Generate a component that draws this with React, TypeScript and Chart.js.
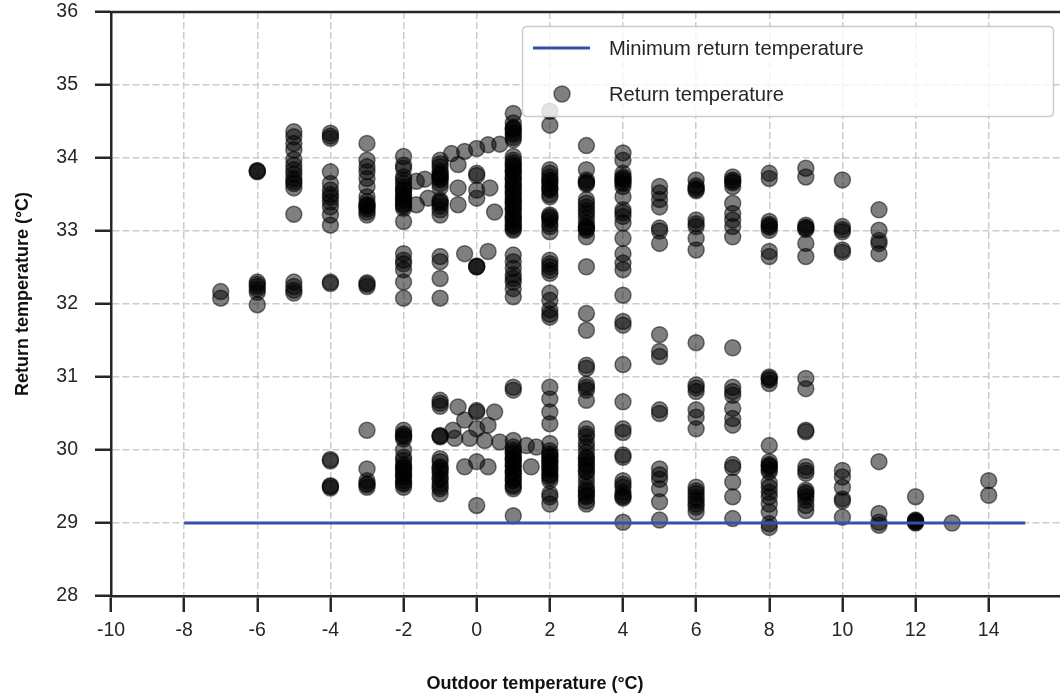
import React, { useEffect, useRef } from "react";
import { Chart, registerables } from "chart.js";

Chart.register(...registerables);

// ---------- data ----------
const xTickValues = [-10, -8, -6, -4, -2, 0, 2, 4, 6, 8, 10, 12, 14];
const yTickValues = [28, 29, 30, 31, 32, 33, 34, 35, 36];

const xAxisTitle = "Outdoor temperature (°C)";
const yAxisTitle = "Return temperature (°C)";
const lineLabel = "Minimum return temperature";
const pointLabel = "Return temperature";

// minimum return temperature line
const minLineOutdoor = [-8, 15];
const minLineReturn = [29, 29];

// return temperatures measured at whole-degree outdoor temperatures
const columnOutdoor = [-7, -6, -5, -4, -3, -2, -1, 0, 1, 2, 3, 4, 5, 6, 7, 8, 9, 10, 11, 12, 13, 14];
const columnReturn: number[][] = [
  [32.17, 32.08],
  [33.83, 33.81, 33.82, 32.3, 32.27, 32.24, 32.2, 32.16, 31.99],
  [34.36, 34.29, 34.2, 34.11, 33.98, 33.9, 33.84, 33.78, 33.72, 33.68, 33.65, 33.59, 33.23, 32.3, 32.24, 32.19, 32.15],
  [34.34, 34.27, 34.3, 33.81, 33.65, 33.56, 33.5, 33.46, 33.4, 33.33, 33.22, 33.08, 32.3, 32.28, 29.87, 29.85, 29.51, 29.48, 29.5],
  [34.2, 33.97, 33.88, 33.81, 33.72, 33.61, 33.47, 33.4, 33.36, 33.33, 33.3, 33.26, 33.22, 33.35, 32.29, 32.27, 32.24, 30.27, 29.74, 29.58, 29.54, 29.49, 29.52],
  [34.02, 33.9, 33.86, 33.74, 33.7, 33.65, 33.6, 33.56, 33.5, 33.47, 33.42, 33.38, 33.34, 33.31, 33.13,
   33.55, 33.45, 33.36,
   32.69, 32.6, 32.55, 32.47, 32.3, 32.08,
   30.27, 30.22, 30.18, 30.15, 30.0, 29.9, 29.86, 29.8, 29.77, 29.72, 29.68, 29.63, 29.58, 29.53, 29.49,
   30.2, 29.75, 29.65, 29.55],
  [33.97, 33.92, 33.88, 33.82, 33.77, 33.74, 33.7, 33.65, 33.6, 33.42, 33.38, 33.34, 33.29, 33.22,
   33.78, 33.72, 33.4,
   32.65, 32.58, 32.35, 32.08,
   30.68, 30.64, 30.6, 30.2, 30.18, 29.88, 29.84, 29.77, 29.72, 29.68, 29.62, 29.54, 29.47, 29.4,
   30.19, 29.75, 29.6, 29.5],
  [33.79, 33.76, 33.56, 33.45, 32.51, 32.52, 30.54, 30.52, 30.29, 29.84, 29.24],
  [34.61, 34.48, 34.42, 34.39, 34.35, 34.32, 34.28, 34.25, 34.02, 33.97, 33.93, 33.88, 33.84, 33.8, 33.75, 33.7, 33.65, 33.6, 33.56, 33.5, 33.46, 33.43, 33.38, 33.34, 33.29, 33.24, 33.2, 33.15, 33.11, 33.06, 33.01,
   34.4, 33.9, 33.82, 33.72, 33.62, 33.52, 33.4, 33.3, 33.18, 33.08, 33.03,
   32.67, 32.58, 32.49, 32.4, 32.35, 32.3, 32.21, 32.1,
   30.86, 30.82, 30.13, 30.04, 30.0, 29.95, 29.9, 29.86, 29.82, 29.77, 29.72, 29.68, 29.63, 29.58, 29.52, 29.47, 29.1,
   29.97, 29.88, 29.79, 29.7, 29.6, 29.5],
  [34.64, 34.45, 33.84, 33.79, 33.74, 33.7, 33.65, 33.6, 33.56, 33.5, 33.47, 33.22, 33.18, 33.1, 33.06, 32.99,
   33.68, 33.58, 33.2, 33.15,
   32.6, 32.55, 32.51, 32.46, 32.42, 32.15, 32.05, 31.92, 31.86, 31.82,
   30.86, 30.7, 30.52, 30.36, 30.09, 29.99, 29.95, 29.9, 29.86, 29.81, 29.77, 29.72, 29.67, 29.62, 29.58, 29.4, 29.36, 29.26,
   29.92, 29.84, 29.75, 29.65],
  [34.17, 33.84, 33.7, 33.67, 33.64, 33.43, 33.38, 33.33, 33.28, 33.24, 33.18, 33.11, 33.06, 33.01, 32.92, 32.51,
   33.66, 33.05, 33.03,
   31.87, 31.64, 31.16, 31.12, 30.9, 30.86, 30.82, 30.68,
   30.29, 30.22, 30.18, 30.1, 30.04, 29.97, 29.9, 29.84, 29.77, 29.7, 29.63, 29.56, 29.49, 29.42, 29.36, 29.3, 29.26,
   29.88, 29.8, 29.72, 29.45, 29.38],
  [34.07, 33.97, 33.79, 33.74, 33.7, 33.65, 33.61, 33.47, 33.29, 33.2, 33.11, 32.9, 32.69, 32.56, 32.47, 32.12,
   33.72, 33.67, 33.25,
   31.76, 31.71, 31.17, 30.66, 30.29, 30.24,
   29.93, 29.9, 29.58, 29.53, 29.49, 29.42, 29.38, 29.34, 29.01, 29.36],
  [33.61, 33.52, 33.43, 33.33, 33.04, 33.0, 32.83, 31.58, 31.35, 31.28, 30.55, 30.5, 29.74, 29.66, 29.6, 29.47, 29.29, 29.04],
  [33.7, 33.62, 33.59, 33.55, 33.57, 33.15, 33.1, 33.06, 32.9, 32.74, 31.47, 30.89, 30.85, 30.8, 30.55, 30.45, 30.29,
   29.49, 29.44, 29.4, 29.35, 29.31, 29.26, 29.22, 29.15],
  [33.74, 33.7, 33.66, 33.61, 33.68, 33.38, 33.24, 33.15, 33.06, 32.92, 31.4, 30.86, 30.8, 30.75, 30.57, 30.43, 30.34,
   29.8, 29.76, 29.56, 29.36, 29.06],
  [33.79, 33.72, 33.13, 33.09, 33.05, 33.01, 33.07, 32.72, 32.65, 31.0, 30.96, 30.91, 30.98, 30.06,
   29.84, 29.8, 29.77, 29.73, 29.7, 29.55, 29.49, 29.42, 29.36, 29.26, 29.15, 28.99, 28.94, 29.78],
  [33.86, 33.74, 33.08, 33.05, 33.02, 33.04, 32.83, 32.65, 30.98, 30.84, 30.27, 30.25,
   29.77, 29.72, 29.68, 29.45, 29.4, 29.36, 29.31, 29.24, 29.17, 29.42],
  [33.7, 33.06, 33.02, 32.99, 32.74, 32.71, 29.72, 29.63, 29.49, 29.33, 29.3, 29.08],
  [33.29, 33.01, 32.87, 32.83, 32.69, 29.84, 29.13, 29.01, 28.97],
  [29.36, 29.04, 29.02, 29.0, 29.01, 29.03],
  [29.0],
  [29.58, 29.38],
];

// readings at fractional outdoor temperatures
const extraOutdoor = [
  -1.65, -1.42, -1.33, -1.65, -0.69, -0.51, -0.33, -0.51, -0.51, 0.0, 0.31, 0.36, 0.49, 0.63,
  -0.33, 0.0, 0.31,
  -0.51, -0.65, -0.33, -0.6, -0.19, 0.22, 0.31, 0.49, 0.63, -0.33, 0.31, 1.36, 1.63, 1.49,
];
const extraReturn = [
  33.68, 33.71, 33.45, 33.36, 34.06, 33.91, 34.09, 33.59, 33.36, 34.13, 34.18, 33.59, 33.26, 34.19,
  32.69, 32.51, 32.72,
  30.59, 30.27, 30.41, 30.16, 30.16, 30.13, 30.34, 30.52, 30.11, 29.77, 29.77, 30.06, 30.04, 29.77,
];

// ---------- styles ----------
const FONT = "'Liberation Sans', Arial, Helvetica, sans-serif";
const INK = "#262626";
const LINE_BLUE = "#3a4ea8";
const POINT_FILL = "rgba(0,0,0,0.5)";
const POINT_EDGE = "rgba(0,0,0,0.5)";

export default function App() {
  const canvasRef = useRef<HTMLCanvasElement | null>(null);

  useEffect(() => {
    if (!canvasRef.current) return;

    const points: { x: number; y: number }[] = [];
    columnOutdoor.forEach((x, i) => {
      columnReturn[i].forEach((y) => points.push({ x, y }));
    });
    extraOutdoor.forEach((x, i) => points.push({ x, y: extraReturn[i] }));

    const linePoints = minLineOutdoor.map((x, i) => ({ x, y: minLineReturn[i] }));

    const decorPlugin = {
      id: "decor",
      afterDraw(chart: any) {
        const { ctx, chartArea } = chart;
        ctx.save();
        // top spine
        ctx.strokeStyle = INK;
        ctx.lineWidth = 2.5;
        ctx.beginPath();
        ctx.moveTo(chartArea.left - 1.25, chartArea.top);
        ctx.lineTo(chartArea.right, chartArea.top);
        ctx.stroke();

        // legend box
        const bx = 522.5, by = 26.5, bw = 531, bh = 90, r = 5;
        ctx.beginPath();
        ctx.moveTo(bx + r, by);
        ctx.lineTo(bx + bw - r, by);
        ctx.quadraticCurveTo(bx + bw, by, bx + bw, by + r);
        ctx.lineTo(bx + bw, by + bh - r);
        ctx.quadraticCurveTo(bx + bw, by + bh, bx + bw - r, by + bh);
        ctx.lineTo(bx + r, by + bh);
        ctx.quadraticCurveTo(bx, by + bh, bx, by + bh - r);
        ctx.lineTo(bx, by + r);
        ctx.quadraticCurveTo(bx, by, bx + r, by);
        ctx.closePath();
        ctx.fillStyle = "rgba(255,255,255,0.8)";
        ctx.fill();
        ctx.strokeStyle = "#cccccc";
        ctx.lineWidth = 1.5;
        ctx.stroke();

        // legend entries
        ctx.strokeStyle = LINE_BLUE;
        ctx.lineWidth = 3;
        ctx.beginPath();
        ctx.moveTo(533, 48);
        ctx.lineTo(590, 48);
        ctx.stroke();

        ctx.beginPath();
        ctx.arc(562, 94, 8, 0, Math.PI * 2);
        ctx.fillStyle = POINT_FILL;
        ctx.fill();
        ctx.strokeStyle = POINT_EDGE;
        ctx.lineWidth = 1.5;
        ctx.stroke();

        ctx.fillStyle = INK;
        ctx.font = `20.2px ${FONT}`;
        ctx.textAlign = "left";
        ctx.textBaseline = "middle";
        ctx.fillText(lineLabel, 609, 49);
        ctx.fillText(pointLabel, 609, 95);

        // axis titles
        ctx.font = `bold 18px ${FONT}`;
        ctx.fillStyle = "#111111";
        ctx.textAlign = "center";
        ctx.fillText(xAxisTitle, 535, 684);
        ctx.translate(23, 294);
        ctx.rotate(-Math.PI / 2);
        ctx.fillText(yAxisTitle, 0, 0);
        ctx.restore();
      },
    };

    const chart = new Chart(canvasRef.current, {
      type: "scatter",
      data: {
        datasets: [
          {
            type: "line",
            label: lineLabel,
            data: linePoints,
            borderColor: LINE_BLUE,
            borderWidth: 3,
            pointRadius: 0,
            fill: false,
            showLine: true,
          } as any,
          {
            label: pointLabel,
            data: points,
            backgroundColor: POINT_FILL,
            borderColor: POINT_EDGE,
            borderWidth: 1.5,
            pointRadius: 8,
          },
        ],
      },
      options: {
        responsive: false,
        animation: false,
        devicePixelRatio: 1,
        layout: { autoPadding: false, padding: { top: 12, right: 0, bottom: 0, left: 0 } },
        plugins: {
          legend: { display: false },
          tooltip: { enabled: false },
        },
        scales: {
          x: {
            type: "linear",
            min: -10,
            max: 15.95,
            afterBuildTicks: (s: any) => {
              s.ticks = xTickValues.map((v) => ({ value: v }));
            },
            afterFit: (s: any) => {
              s.height = 100;
              s.paddingLeft = 0;
              s.paddingRight = 0;
            },
            ticks: {
              color: INK,
              font: { family: FONT, size: 19.5 },
              padding: 7,
              maxRotation: 0,
              autoSkip: false,
            },
            grid: {
              color: "#cccccc",
              lineWidth: 1.5,
              tickColor: INK,
              tickWidth: 2.5,
              tickLength: 16,
              tickBorderDash: [],
            },
            border: { display: true, color: INK, width: 2.5, dash: [7, 3] },
          },
          y: {
            type: "linear",
            min: 28,
            max: 36,
            afterBuildTicks: (s: any) => {
              s.ticks = yTickValues.map((v) => ({ value: v }));
            },
            afterFit: (s: any) => {
              s.width = 111;
              s.paddingTop = 0;
              s.paddingBottom = 0;
            },
            ticks: {
              color: INK,
              font: { family: FONT, size: 19.5 },
              padding: 17,
              autoSkip: false,
            },
            grid: {
              color: "#cccccc",
              lineWidth: 1.5,
              tickColor: INK,
              tickWidth: 2.5,
              tickLength: 16,
              tickBorderDash: [],
            },
            border: { display: true, color: INK, width: 2.5, dash: [7, 3] },
          },
        },
      },
      plugins: [decorPlugin],
    });

    return () => chart.destroy();
  }, []);

  return (
    <div style={{ position: "fixed", left: 0, top: 0, width: 1060, height: 696, background: "#ffffff", overflow: "hidden" }}>
      <canvas ref={canvasRef} width={1060} height={696} style={{ display: "block", width: 1060, height: 696 }} />
    </div>
  );
}
